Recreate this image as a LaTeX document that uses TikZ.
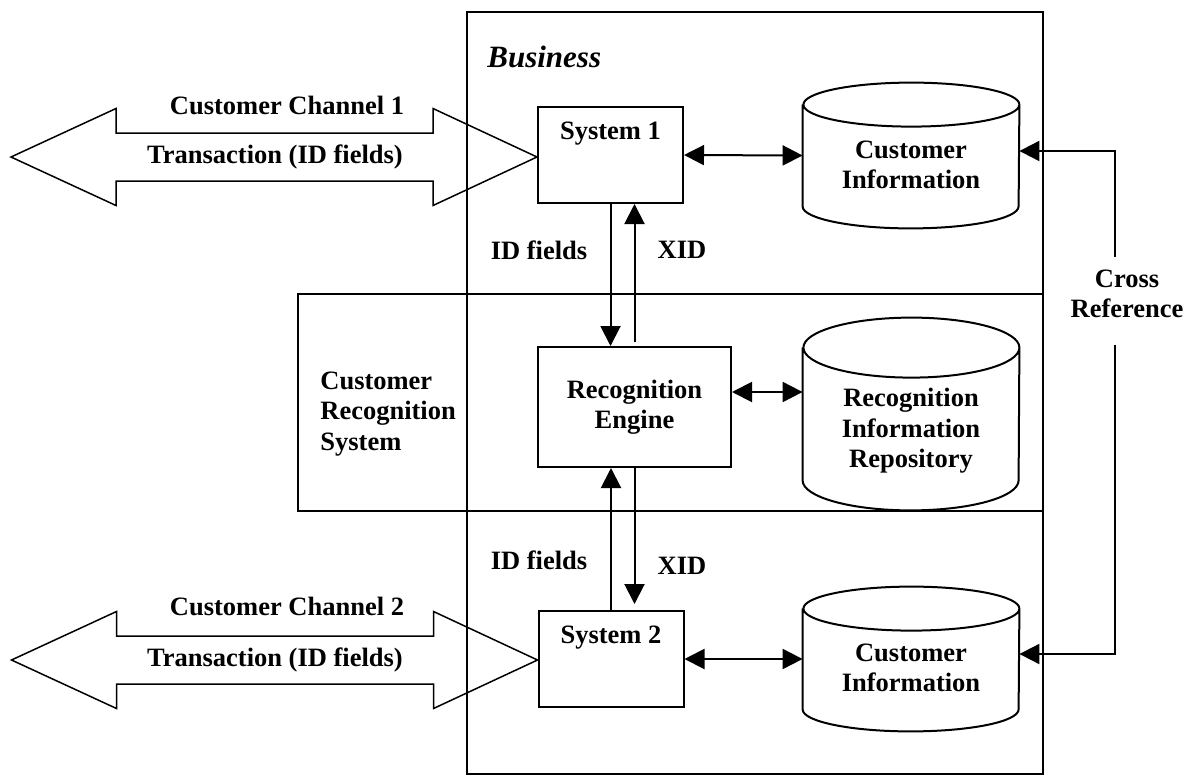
\documentclass[tikz,border=0pt]{standalone}
\usepackage{fontspec}
\setmainfont{Liberation Serif}
\usetikzlibrary{arrows.meta,calc}
\newcommand\mycyl[2]{%
  \draw[boxline,fill=white] ([yshift=-#2]#1.north west) -- ([yshift=#2]#1.south west)
    arc[start angle=180,end angle=360,x radius=54pt,y radius=#2]
    -- ([yshift=-#2]#1.north east)
    arc[start angle=0,end angle=360,x radius=54pt,y radius=#2];
}
\begin{document}
\begin{tikzpicture}[x=0.5pt,y=-0.5pt,
  boxline/.style={line width=1pt,draw=black},
  frame/.style={line width=0.9pt,draw=black},
  sysbox/.style={boxline,rectangle,inner sep=0pt,minimum width=72.5pt,minimum height=48pt,fill=white},
  engbox/.style={boxline,rectangle,inner sep=0pt,minimum width=96.5pt,minimum height=60pt,align=center,font=\fontsize{13.25}{15}\selectfont\bfseries},
  cylnode/.style={rectangle,inner sep=0pt,minimum width=108pt},
  lbl/.style={inner sep=0pt,align=center,font=\fontsize{13.25}{15.2}\selectfont\bfseries},
  bigarrow/.style={line width=0.75pt,draw=black,line join=miter},
  sarr/.style={line width=1pt,-{Triangle[length=10pt,width=10pt]}},
  dbl/.style={line width=1pt,{Triangle[length=10pt,width=10pt]}-{Triangle[length=10pt,width=10pt]}}
]
\fill[white] (0,0) rectangle (1188,776);
\useasboundingbox (0,0) rectangle (1188,776);

% frames
\draw[frame] (467,12) rectangle (1043,774);
\draw[frame] (298,294) rectangle (1043,511);
\node[anchor=west,inner sep=0pt,font=\fontsize{15.5}{18}\selectfont\bfseries\itshape] (bus) at (487,57) {Business};

% boxes
\node[sysbox] (sys1) at (610.5,155) {};
\node[sysbox] (sys2) at (611,659) {};
\node[engbox] (reng) at (634.5,407) {Recognition\\Engine};
\node[lbl] (sys1t) at (610.5,134) {System 1};
\node[lbl] (sys2t) at (611,638) {System 2};

% cylinders
\node[cylnode,minimum height=72.5pt] (ci1) at (911,155.5) {};
\node[cylnode,minimum height=96pt] (rir) at (911,414) {};
\node[cylnode,minimum height=72pt] (ci2) at (911,659) {};
\mycyl{ci1}{11pt}
\mycyl{rir}{15pt}
\mycyl{ci2}{11pt}
\node[lbl] (ci1t) at ([yshift=-4.75pt]ci1.center) {Customer\\Information};
\node[lbl] (rirt) at ([yshift=-8.5pt]rir.center) {Recognition\\Information\\Repository};
\node[lbl] (ci2t) at ([yshift=-4.5pt]ci2.center) {Customer\\Information};

% CRS label
\node[lbl,anchor=west,align=left] (crs) at (320,414) {Customer\\Recognition\\System};

% big double arrows
\draw[bigarrow] ([yshift=-1pt]sys1.west) -- ++(-104,-48.5) -- ++(0,24.5) -- ++(-317,0) -- ++(0,-24.5)
  -- ++(-105,48.5) -- ++(105,48.5) -- ++(0,-24.5) -- ++(317,0) -- ++(0,24.5) -- cycle;
\draw[bigarrow] ([yshift=-0.5pt]sys2.west) -- ++(-104,-48.5) -- ++(0,24.5) -- ++(-317,0) -- ++(0,-24.5)
  -- ++(-105,48.5) -- ++(105,48.5) -- ++(0,-24.5) -- ++(317,0) -- ++(0,24.5) -- cycle;
\node[lbl] (cc1) at (287,105) {Customer Channel 1};
\node[lbl] (tr1) at (275,157) {Transaction (ID fields)};
\node[lbl] (cc2) at (287,606) {Customer Channel 2};
\node[lbl] (tr2) at (275,660) {Transaction (ID fields)};

% horizontal double arrows
\draw[dbl] (sys1.east) -- (ci1.west);
\draw[dbl] (sys2.east) -- (ci2.west);
\coordinate (re1) at ([yshift=7.5pt]reng.east);
\draw[dbl] (re1) -- (re1 -| rir.west);

% vertical arrows
\draw[sarr] (sys1.south) -- (sys1.south |- reng.north);
\coordinate (x1) at ([yshift=2pt]reng.north);
\draw[sarr] (x1) -- (x1 |- sys1.south);
\draw[sarr] (sys2.north) -- (sys2.north |- reng.south);
\coordinate (x2) at (reng.south |- sys2.north);
\draw[sarr] (reng.south) -- ([yshift=3pt]x2);

\node[lbl] (idf1) at (539,250) {ID fields};
\node[lbl] (xid1) at (682,250) {XID};
\node[lbl] (idf2) at (539,560) {ID fields};
\node[lbl] (xid2) at (682,566) {XID};

% cross reference
\node[lbl] (xref) at (1127,294) {Cross\\Reference};
\coordinate (cr1) at (1115,151);
\coordinate (cr2) at (1115,257);
\coordinate (cr3) at (1115,345);
\coordinate (cr4) at (1115,654);
\draw[sarr] (cr2) -- (cr1) -- (cr1 -| ci1.east);
\draw[sarr] (cr3) -- (cr4) -- (cr4 -| ci2.east);
\end{tikzpicture}
\end{document}
